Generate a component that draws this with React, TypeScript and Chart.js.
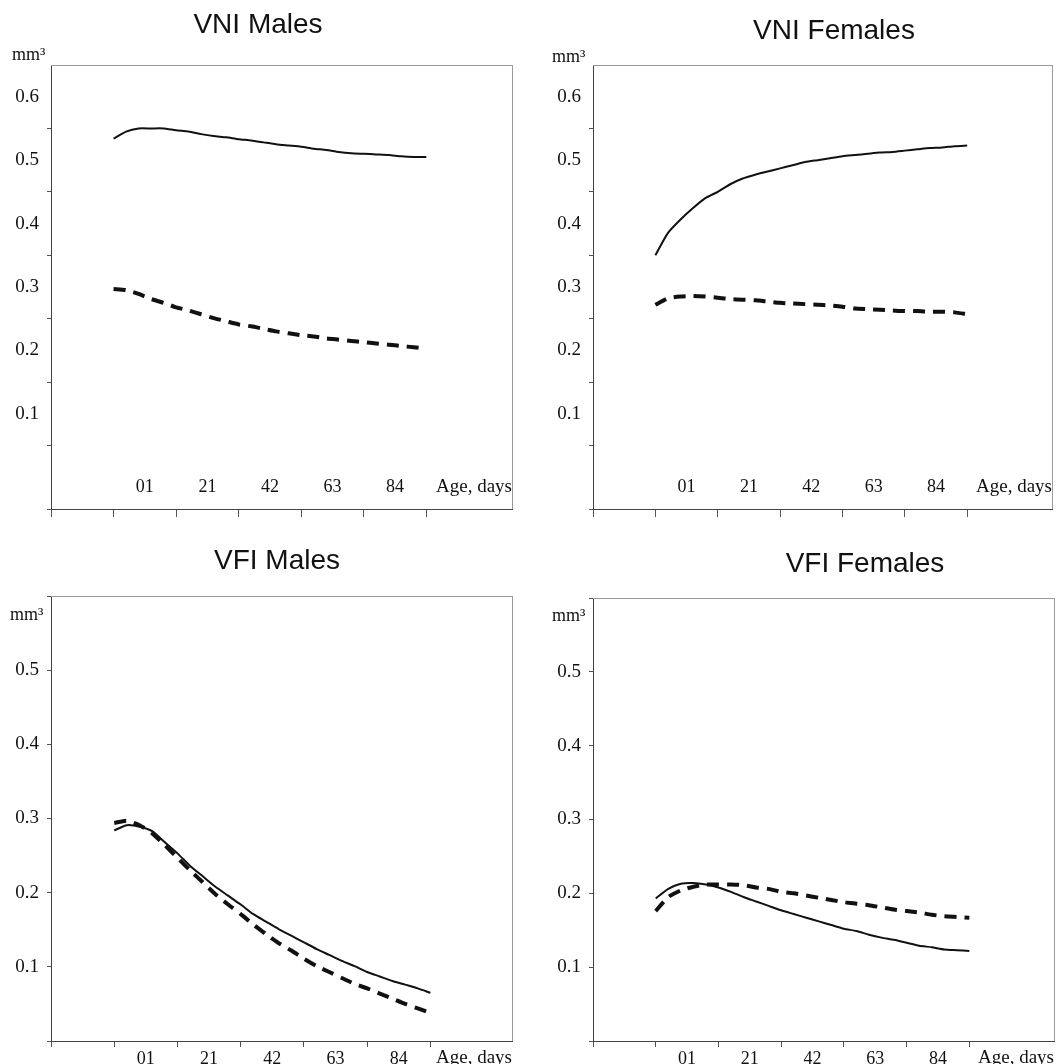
import { useEffect, useRef } from "react";
import { Chart, registerables } from "chart.js";

Chart.register(...registerables);

// ---- data ----
const ages = [1.0, 1.2, 1.4, 1.6, 1.8, 2.0, 2.2, 2.4, 2.6, 2.8, 3.0, 3.2, 3.4, 3.6, 3.8, 4.0, 4.2, 4.4, 4.6, 4.8, 5.0, 5.2, 5.4, 5.6, 5.8, 6.0];
const xTickLabels = ["", "01", "21", "42", "63", "84", ""];
const xAxisName = "Age, days";
const yUnit = "mm³";
const titles = ["VNI Males", "VNI Females", "VFI Males", "VFI Females"];

const vniMalesSolid = [0.534, 0.545, 0.550, 0.550, 0.550, 0.547, 0.545, 0.541, 0.538, 0.536, 0.533, 0.531, 0.528, 0.525, 0.523, 0.521, 0.518, 0.516, 0.513, 0.511, 0.510, 0.509, 0.508, 0.506, 0.505, 0.505];
const vniMalesDashed = [0.297, 0.295, 0.289, 0.281, 0.275, 0.268, 0.263, 0.257, 0.251, 0.246, 0.241, 0.238, 0.234, 0.230, 0.227, 0.224, 0.222, 0.219, 0.217, 0.215, 0.213, 0.211, 0.209, 0.207, 0.205, 0.203];
const vniFemalesSolid = [0.350, 0.385, 0.406, 0.424, 0.440, 0.450, 0.462, 0.471, 0.477, 0.482, 0.487, 0.492, 0.497, 0.500, 0.503, 0.506, 0.508, 0.510, 0.512, 0.513, 0.515, 0.517, 0.519, 0.520, 0.522, 0.523];
const vniFemalesDashed = [0.272, 0.282, 0.285, 0.286, 0.285, 0.283, 0.281, 0.280, 0.279, 0.277, 0.275, 0.274, 0.273, 0.272, 0.271, 0.269, 0.266, 0.265, 0.264, 0.263, 0.262, 0.262, 0.261, 0.261, 0.260, 0.257];
const vfiMalesSolid = [0.284, 0.291, 0.289, 0.283, 0.268, 0.253, 0.236, 0.222, 0.208, 0.196, 0.184, 0.171, 0.161, 0.151, 0.142, 0.133, 0.124, 0.116, 0.108, 0.101, 0.093, 0.087, 0.081, 0.076, 0.071, 0.065];
const vfiMalesDashed = [0.294, 0.297, 0.291, 0.280, 0.264, 0.247, 0.230, 0.214, 0.198, 0.184, 0.171, 0.157, 0.144, 0.132, 0.122, 0.111, 0.101, 0.093, 0.085, 0.077, 0.071, 0.064, 0.057, 0.050, 0.044, 0.038];
const vfiFemalesSolid = [0.193, 0.206, 0.213, 0.214, 0.212, 0.208, 0.202, 0.195, 0.189, 0.183, 0.177, 0.172, 0.167, 0.162, 0.157, 0.152, 0.149, 0.144, 0.140, 0.137, 0.133, 0.129, 0.127, 0.124, 0.123, 0.122];
const vfiFemalesDashed = [0.176, 0.195, 0.204, 0.209, 0.212, 0.212, 0.212, 0.211, 0.208, 0.206, 0.202, 0.200, 0.197, 0.194, 0.191, 0.188, 0.186, 0.184, 0.181, 0.178, 0.176, 0.174, 0.171, 0.169, 0.168, 0.167];

// ---- layout (page pixels) ----
type PanelCfg = {
  title: string;
  solid: number[];
  dashed: number[];
  left: number;
  top: number;
  area: { l: number; t: number; r: number; b: number };
  xMax: number;
  titlePos: [number, number];
  unitPos: [number, number];
  labelsInside: boolean;
};

const CW = 532;
const CH = 532;

const panels: PanelCfg[] = [
  { title: titles[0], solid: vniMalesSolid, dashed: vniMalesDashed, left: 0, top: 0, area: { l: 51, t: 65, r: 512, b: 509 }, xMax: 7.37, titlePos: [258, 25], unitPos: [12, 60], labelsInside: true },
  { title: titles[1], solid: vniFemalesSolid, dashed: vniFemalesDashed, left: 532, top: 0, area: { l: 593, t: 65, r: 1052, b: 509 }, xMax: 7.36, titlePos: [834, 31], unitPos: [552, 62], labelsInside: true },
  { title: titles[2], solid: vfiMalesSolid, dashed: vfiMalesDashed, left: 0, top: 532, area: { l: 51, t: 596, r: 512, b: 1041 }, xMax: 7.29, titlePos: [277, 561], unitPos: [10, 620], labelsInside: false },
  { title: titles[3], solid: vfiFemalesSolid, dashed: vfiFemalesDashed, left: 532, top: 532, area: { l: 593, t: 598, r: 1054, b: 1041 }, xMax: 7.35, titlePos: [865, 564], unitPos: [552, 621], labelsInside: false },
];

const SERIF = "'Liberation Serif', 'Times New Roman', serif";
const SANS = "'Liberation Sans', Arial, sans-serif";

function Panel({ cfg }: { cfg: PanelCfg }) {
  const ref = useRef<HTMLCanvasElement | null>(null);

  useEffect(() => {
    const canvas = ref.current;
    if (!canvas) return;
    const a = cfg.area;
    const yAxisWidth = a.l - cfg.left;
    const xAxisHeight = cfg.top + CH - a.b;
    const padTop = a.t - cfg.top;
    const padRight = cfg.left + CW - a.r;
    const plotH = a.b - a.t;

    const inside = cfg.labelsInside;
    const yMin = inside ? -0.05 : 0;
    const yMax = inside ? 0.65 : 0.6;
    const yTickVals = inside
      ? [-0.05, 0.05, 0.15, 0.25, 0.35, 0.45, 0.55]
      : [0, 0.1, 0.2, 0.3, 0.4, 0.5, 0.6];
    const halfStepPx = (plotH / (yMax - yMin)) * 0.05;
    const plotW = a.r - a.l;
    const xStepPx = plotW / cfg.xMax;

    const decor = {
      id: "decor",
      afterDraw(chart: any) {
        const ctx = chart.ctx;
        const ca = chart.chartArea;
        ctx.save();
        // top & right frame
        ctx.strokeStyle = "#9a9a9a";
        ctx.lineWidth = 1;
        ctx.beginPath();
        ctx.moveTo(ca.left, Math.round(ca.top) + 0.5);
        ctx.lineTo(ca.right, Math.round(ca.top) + 0.5);
        ctx.moveTo(Math.round(ca.right) + 0.5, ca.top);
        ctx.lineTo(Math.round(ca.right) + 0.5, ca.bottom);
        ctx.stroke();
        // title
        ctx.fillStyle = "#111";
        ctx.font = `28px ${SANS}`;
        ctx.textAlign = "center";
        ctx.textBaseline = "middle";
        ctx.fillText(cfg.title, cfg.titlePos[0] - cfg.left, cfg.titlePos[1] - cfg.top);
        // unit
        ctx.font = `18px ${SERIF}`;
        ctx.textAlign = "left";
        ctx.textBaseline = "alphabetic";
        ctx.fillText(yUnit, cfg.unitPos[0] - cfg.left, cfg.unitPos[1] - cfg.top);
        // x axis name
        ctx.font = `19px ${SERIF}`;
        ctx.textAlign = "right";
        ctx.textBaseline = "middle";
        const ny = inside ? ca.bottom - 22 : ca.bottom + 17;
        ctx.fillText(xAxisName, ca.right, ny);
        ctx.restore();
      },
    };

    const chart = new Chart(canvas, {
      type: "line",
      data: {
        datasets: [
          {
            data: ages.map((x, i) => ({ x, y: cfg.solid[i] })),
            borderColor: "#111",
            borderWidth: 2,
            pointRadius: 0,
            tension: 0.2,
            fill: false,
          },
          {
            data: ages.map((x, i) => ({ x, y: cfg.dashed[i] })),
            borderColor: "#111",
            borderWidth: 4,
            borderDash: [12, 8],
            borderCapStyle: "butt",
            pointRadius: 0,
            tension: 0.2,
            fill: false,
          },
        ],
      },
      options: {
        responsive: false,
        animation: false,
        devicePixelRatio: 1,
        layout: { padding: { left: 0, top: padTop, right: padRight, bottom: 0 } },
        plugins: {
          legend: { display: false },
          title: { display: false },
          tooltip: { enabled: false },
        },
        scales: {
          x: {
            type: "linear",
            min: 0,
            max: cfg.xMax,
            afterBuildTicks: (scale: any) => {
              scale.ticks = [0, 1, 2, 3, 4, 5, 6].map((v) => ({ value: v }));
            },
            afterFit: (scale: any) => {
              scale.height = xAxisHeight;
            },
            grid: {
              drawOnChartArea: false,
              drawTicks: true,
              tickLength: inside ? 8 : 6,
              color: "#555",
            },
            border: { display: true, color: "#444", width: 1 },
            ticks: {
              autoSkip: false,
              maxRotation: 0,
              minRotation: 0,
              mirror: inside,
              padding: inside ? 11 : 1,
              labelOffset: xStepPx / 2,
              color: "#111",
              font: { family: SERIF, size: 18 },
              callback: (value: any) => xTickLabels[Math.round(Number(value))] ?? "",
            },
          },
          y: {
            type: "linear",
            min: yMin,
            max: yMax,
            afterBuildTicks: (scale: any) => {
              scale.ticks = yTickVals.map((v) => ({ value: v }));
            },
            afterFit: (scale: any) => {
              scale.width = yAxisWidth;
            },
            grid: {
              drawOnChartArea: false,
              drawTicks: true,
              tickLength: 4,
              color: "#555",
            },
            border: { display: true, color: "#444", width: 1 },
            ticks: {
              padding: 8,
              labelOffset: inside ? -halfStepPx : 0,
              color: "#111",
              font: { family: SERIF, size: 19 },
              callback: (value: any) => {
                const v = Math.round((Number(value) + (inside ? 0.05 : 0)) * 10) / 10;
                const hi = inside ? 0.6 : 0.5;
                return v >= 0.1 && v <= hi + 1e-9 ? v.toFixed(1) : "";
              },
            },
          },
        },
      },
      plugins: [decor],
    } as any);

    return () => {
      chart.destroy();
    };
  }, [cfg]);

  return (
    <canvas
      ref={ref}
      width={CW}
      height={CH}
      style={{ position: "absolute", left: cfg.left, top: cfg.top, width: CW, height: CH }}
    />
  );
}

export default function App() {
  return (
    <div style={{ position: "absolute", left: 0, top: 0, width: 1064, height: 1064, background: "#fff", overflow: "hidden" }}>
      {panels.map((p) => (
        <Panel key={p.title} cfg={p} />
      ))}
    </div>
  );
}
